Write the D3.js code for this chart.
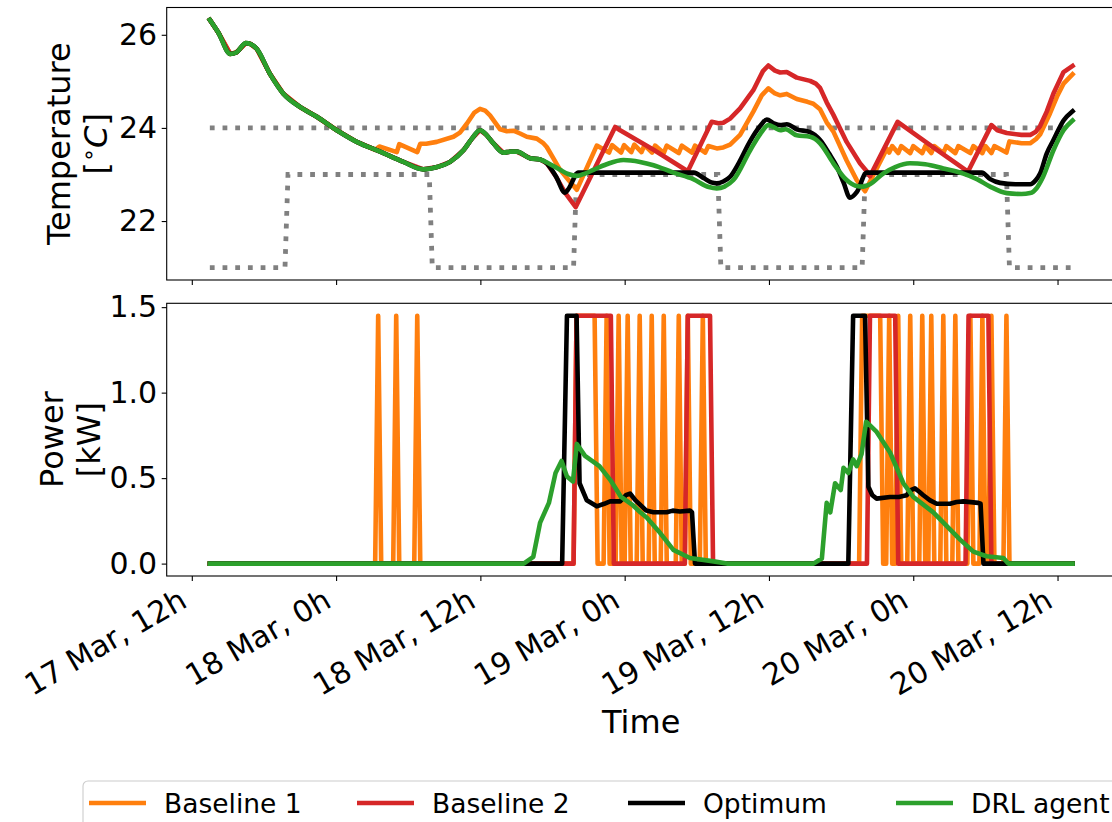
<!DOCTYPE html>
<html><head><meta charset="utf-8">
<script src="https://cdn.jsdelivr.net/npm/d3@7"></script>
<style>
body{margin:0;background:#fff;}
svg{display:block;font-family:"DejaVu Sans",sans-serif;}
</style>
</head><body>
<svg id="c" width="1112" height="822"></svg>
<script>
// ---------- DATA (time in hours since 17 Mar 00:00) ----------
const tickHours = [12, 24, 36, 48, 60, 72, 84];
const tempTicks = [22, 24, 26];
const powerTicks = [0.0, 0.5, 1.0, 1.5];
const seriesNames = ["Baseline 1", "Baseline 2", "Optimum", "DRL agent"];
const seriesColors = ["#ff7f0e", "#d62728", "#000000", "#2ca02c"];

// setpoints
const setpointUpper = [[13.5, 24], [85.25, 24]];
const setpointLower = [[13.5, 21], [19.75, 21], [20.0, 23], [31.75, 23], [32.0, 21], [43.75, 21], [44.0, 23],
  [55.75, 23], [56.0, 21], [67.75, 21], [68.0, 23], [79.75, 23], [80.0, 21], [85.25, 21]];

// shared temperature trajectory (all controllers identical at start)
const tempSharedA = [[13.5, 26.32], [14.2, 26.05], [15.2, 25.59], [15.7, 25.62], [16.5, 25.82], [16.9, 25.80],
  [17.4, 25.70], [18.5, 25.16], [19.6, 24.74], [21.0, 24.45], [22.4, 24.24], [24.06, 23.95], [25.72, 23.70]];
const tempSharedB = [[27.66, 23.49], [29.6, 23.27], [31.26, 23.11], [32.4, 23.16], [33.48, 23.27], [34.59, 23.52],
  [35.3, 23.77], [35.97, 23.95], [36.5, 23.85], [37.08, 23.67], [37.91, 23.47], [38.5, 23.49], [39.03, 23.49],
  [40.13, 23.35], [40.97, 23.32]];

const tempBaseline1Own = [[27.25, 23.53], [27.6, 23.60], [29.05, 23.48], [29.25, 23.65], [30.75, 23.48], [31.0, 23.66],
  [31.5, 23.66], [32.37, 23.70], [33.76, 23.81], [34.3, 23.90], [34.87, 24.09], [35.5, 24.33], [35.97, 24.41],
  [36.4, 24.37], [36.8, 24.27], [37.64, 23.97], [38.2, 23.93], [38.75, 23.94], [39.3, 23.88], [39.86, 23.81],
  [40.69, 23.77], [41.2, 23.68], [41.52, 23.59], [42.63, 23.10], [43.4, 22.86], [44.02, 22.67], [45.68, 23.62],
  [46.7, 23.47], [46.95, 23.63], [47.7, 23.47], [47.95, 23.63], [48.55, 23.48], [48.8, 23.64], [49.4, 23.48],
  [49.65, 23.63], [50.28, 23.47], [50.53, 23.62], [51.25, 23.46], [51.5, 23.62], [52.5, 23.46], [52.75, 23.62],
  [53.6, 23.47], [53.85, 23.62], [54.7, 23.47], [54.96, 23.61], [55.66, 23.56], [56.2, 23.58], [56.77, 23.64],
  [57.6, 23.85], [58.7, 24.35], [59.4, 24.70], [59.95, 24.85], [60.5, 24.74], [60.93, 24.70], [61.48, 24.73],
  [62.31, 24.62], [63.2, 24.56], [63.69, 24.52], [64.25, 24.40], [64.8, 24.12], [65.36, 23.92], [66.46, 23.30],
  [67.3, 22.88], [67.99, 22.64], [69.8, 23.55], [70.0, 23.47], [70.25, 23.61], [70.75, 23.46], [71.0, 23.61],
  [71.75, 23.46], [72.0, 23.61], [72.75, 23.46], [73.0, 23.61], [73.5, 23.46], [73.75, 23.61], [74.5, 23.46],
  [74.75, 23.61], [75.5, 23.46], [75.75, 23.61], [76.75, 23.46], [77.0, 23.61], [77.75, 23.46], [78.0, 23.61],
  [78.5, 23.46], [78.75, 23.61], [79.75, 23.47], [80.0, 23.71], [81.0, 23.67], [81.72, 23.67], [82.2, 23.76],
  [82.55, 23.86], [83.37, 24.31], [84.0, 24.70], [84.5, 24.95], [85.25, 25.15]];

const tempBaseline2Own = [[41.52, 23.24], [42.3, 22.95], [43.04, 22.61], [43.93, 22.30], [47.21, 24.02], [47.62, 23.95],
  [50.4, 23.53], [53.25, 23.07], [55.24, 24.13], [55.8, 24.10], [56.2, 24.11], [56.77, 24.20], [57.6, 24.42],
  [58.7, 24.81], [59.5, 25.22], [59.95, 25.34], [60.5, 25.23], [60.93, 25.19], [61.48, 25.20], [62.31, 25.08],
  [63.42, 25.01], [63.9, 24.95], [64.25, 24.86], [64.8, 24.55], [65.36, 24.28], [66.46, 23.70], [67.57, 23.24],
  [68.13, 23.07], [68.4, 22.96], [70.7, 24.13], [73.67, 23.58], [76.55, 23.06], [78.5, 24.06], [79.0, 23.95],
  [79.78, 23.89], [81.0, 23.85], [81.72, 23.85], [82.2, 23.92], [82.55, 24.04], [83.1, 24.35], [83.66, 24.74],
  [84.5, 25.20], [85.25, 25.33]];

const tempOptimumOwn = [[41.52, 23.24], [42.3, 22.95], [43.04, 22.61], [43.3, 22.68], [44.15, 23.04], [53.74, 23.04],
  [54.6, 22.92], [55.2, 22.83], [55.66, 22.81], [56.2, 22.85], [56.77, 22.95], [57.5, 23.25], [58.4, 23.70],
  [59.3, 24.05], [59.82, 24.18], [60.4, 24.10], [60.93, 24.06], [61.48, 24.08], [62.31, 23.97], [63.42, 23.91],
  [64.25, 23.74], [65.0, 23.45], [65.64, 23.17], [66.2, 22.83], [66.74, 22.50], [67.3, 22.62], [68.13, 23.04],
  [77.7, 23.04], [78.4, 22.90], [79.22, 22.82], [80.5, 22.79], [81.72, 22.79], [82.2, 22.88], [82.55, 23.02],
  [83.1, 23.45], [83.66, 23.74], [84.5, 24.16], [85.25, 24.36]];

const tempAgentOwn = [[41.8, 23.22], [42.63, 23.10], [43.3, 23.01], [44.02, 22.97], [44.7, 23.02], [45.4, 23.10],
  [46.5, 23.22], [47.9, 23.31], [49.28, 23.27], [50.4, 23.20], [52.05, 23.04], [53.7, 22.90], [55.0, 22.73],
  [55.66, 22.70], [56.3, 22.74], [57.04, 22.88], [58.44, 23.52], [59.3, 23.88], [59.95, 24.06], [60.5, 24.00],
  [60.93, 23.95], [61.4, 23.97], [62.31, 23.84], [63.42, 23.81], [64.25, 23.67], [65.36, 23.24], [66.46, 22.88],
  [67.2, 22.76], [67.85, 22.74], [68.4, 22.79], [69.5, 23.02], [70.5, 23.16], [71.73, 23.24], [73.0, 23.22],
  [74.5, 23.13], [76.17, 23.02], [77.3, 22.90], [78.39, 22.74], [79.78, 22.60], [81.0, 22.58], [81.72, 22.60],
  [82.3, 22.72], [82.8, 22.95], [83.66, 23.52], [84.5, 23.95], [85.25, 24.16]];

// power [kW]
const powerBaseline1 = [[13.5, 0], [27.25, 0], [27.5, 1.45], [27.75, 0], [28.75, 0], [29.0, 1.45], [29.25, 0],
  [30.5, 0], [30.75, 1.45], [31.0, 0], [43.75, 0], [44.0, 1.45], [45.5, 1.45], [45.75, 0],
  [46.25, 0], [46.5, 1.45], [46.75, 0], [47.25, 0], [47.5, 1.45], [47.75, 0], [48.0, 0], [48.25, 1.45], [48.5, 0],
  [49.0, 0], [49.25, 1.45], [49.5, 0], [50.0, 0], [50.25, 1.45], [50.5, 0], [51.0, 0], [51.25, 1.45], [51.5, 0],
  [52.25, 0], [52.5, 1.45], [52.75, 0], [53.0, 0], [53.25, 1.45], [53.5, 0], [54.25, 0], [54.5, 1.45], [54.75, 0],
  [67.5, 0], [67.75, 1.45], [69.25, 1.45], [69.5, 0], [69.75, 0], [70.0, 1.45], [70.25, 0], [70.5, 0], [70.75, 1.45],
  [71.0, 0], [71.5, 0], [71.75, 1.45], [72.0, 0], [72.5, 0], [72.75, 1.45], [73.0, 0], [73.25, 0], [73.5, 1.45],
  [73.75, 0], [74.25, 0], [74.5, 1.45], [74.75, 0], [75.25, 0], [75.5, 1.45], [75.75, 0], [76.5, 0], [76.75, 1.45],
  [77.0, 0], [77.5, 0], [77.75, 1.45], [78.0, 0], [78.25, 0], [78.5, 1.45], [78.75, 0], [79.5, 0], [79.75, 1.45],
  [80.0, 0], [85.25, 0]];

const powerBaseline2 = [[13.5, 0], [43.75, 0], [44.0, 1.45], [46.85, 1.45], [47.1, 0], [53.0, 0], [53.25, 1.45],
  [55.1, 1.45], [55.35, 0], [68.15, 0], [68.4, 1.45], [70.5, 1.45], [70.75, 0], [76.35, 0], [76.6, 1.45],
  [78.25, 1.45], [78.5, 0], [85.25, 0]];

const powerOptimum = [[13.5, 0], [42.8, 0], [43.2, 1.45], [44.0, 1.45], [44.25, 0.47], [44.85, 0.37], [45.68, 0.335],
  [46.3, 0.35], [46.79, 0.364], [47.62, 0.364], [48.1, 0.40], [48.45, 0.41], [48.9, 0.37], [49.28, 0.345],
  [49.8, 0.31], [50.39, 0.30], [51.5, 0.30], [52.0, 0.31], [52.6, 0.305], [53.43, 0.31], [53.6, 0.30], [53.85, 0],
  [66.6, 0], [67.0, 1.45], [67.99, 1.45], [68.27, 0.45], [68.6, 0.40], [68.96, 0.38], [70.07, 0.39], [70.8, 0.39],
  [71.45, 0.40], [71.8, 0.43], [72.14, 0.44], [72.5, 0.42], [72.84, 0.40], [73.4, 0.37], [73.95, 0.35],
  [75.06, 0.35], [75.6, 0.36], [76.17, 0.364], [77.4, 0.355], [77.6, 0.35], [77.84, 0], [85.25, 0]];

const powerAgent = [[13.5, 0], [39.6, 0], [40.4, 0.04], [40.97, 0.24], [41.7, 0.355], [42.25, 0.53], [42.75, 0.60],
  [43.2, 0.51], [43.7, 0.48], [44.02, 0.70], [44.7, 0.63], [45.9, 0.57], [46.8, 0.49], [47.7, 0.39], [48.7, 0.34],
  [49.3, 0.30], [49.83, 0.27], [50.94, 0.18], [52.05, 0.08], [53.43, 0.033], [55.4, 0.013], [56.5, 0],
  [63.7, 0], [64.4, 0.03], [64.8, 0.355], [65.1, 0.30], [65.5, 0.47], [65.97, 0.43], [66.2, 0.56], [66.6, 0.53],
  [67.0, 0.61], [67.3, 0.57], [67.7, 0.64], [68.08, 0.83], [68.96, 0.77], [70.07, 0.65], [71.18, 0.47],
  [72.0, 0.39], [73.67, 0.30], [75.06, 0.20], [75.9, 0.14], [77.0, 0.07], [78.1, 0.043], [79.5, 0.033],
  [79.9, 0], [85.25, 0]];

// ---------- BUILD ----------
const tempSeries = [
  tempSharedA.concat(tempBaseline1Own),
  tempSharedA.concat(tempSharedB, tempBaseline2Own),
  tempSharedA.concat(tempSharedB, tempOptimumOwn),
  tempSharedA.concat(tempSharedB, tempAgentOwn)
];
const tempCurves = [d3.curveLinear, d3.curveLinear, d3.curveMonotoneX, d3.curveMonotoneX];
const powerSeries = [powerBaseline1, powerBaseline2, powerOptimum, powerAgent];

const base = Date.UTC(2019, 2, 17);
const toDate = h => new Date(base + h * 3600000);

const svg = d3.select("#c");
const L = 166.7, R = 1115.7;
const top1 = 7.5, bot1 = 280, top2 = 303.3, bot2 = 576;

const allT = tempSeries.flat().map(d => d[0]);
const tMin = d3.min(allT), tMax = d3.max(allT), tPad = (tMax - tMin) * 0.05;
const x = d3.scaleUtc().domain([toDate(tMin - tPad), toDate(tMax + tPad)]).range([L, R]);

const allTemp = tempSeries.flat().map(d => d[1]).concat(setpointLower.map(d => d[1]));
const yMin = d3.min(allTemp), yMax = d3.max(allTemp), yPad = (yMax - yMin) * 0.05;
const y1 = d3.scaleLinear().domain([yMin - yPad, yMax + yPad]).range([bot1, top1]);
const allP = powerSeries.flat().map(d => d[1]);
const pMin = d3.min(allP), pMax = d3.max(allP), pPad = (pMax - pMin) * 0.05;
const y2 = d3.scaleLinear().domain([pMin - pPad, pMax + pPad]).range([bot2, top2]);

const FS = 32;      // axis titles
const TFS = 30;     // tick labels
function styleAxis(g) {
  g.select(".domain").remove();
  g.selectAll(".tick line").attr("stroke", "#000").attr("stroke-width", 1.1);
  g.selectAll(".tick text").attr("font-size", TFS).attr("fill", "#000").attr("font-family", "DejaVu Sans");
}

// clip paths
const defs = svg.append("defs");
defs.append("clipPath").attr("id", "cp1").append("rect").attr("x", L).attr("y", top1).attr("width", R - L).attr("height", bot1 - top1);
defs.append("clipPath").attr("id", "cp2").append("rect").attr("x", L).attr("y", top2).attr("width", R - L).attr("height", bot2 - top2);

// axes
const xTickDates = tickHours.map(toDate);
svg.append("g").attr("transform", `translate(0,${bot1})`)
  .call(d3.axisBottom(x).tickValues(xTickDates).tickSize(5).tickFormat(""))
  .call(styleAxis);
const gx2 = svg.append("g").attr("transform", `translate(0,${bot2})`)
  .call(d3.axisBottom(x).tickValues(xTickDates).tickSize(5).tickFormat(d3.utcFormat("%-d %b, %-Hh")))
  .call(styleAxis);
gx2.selectAll(".tick text")
  .attr("text-anchor", "end").attr("y", 0).attr("dy", 0)
  .attr("transform", "translate(-3.5,30) rotate(-30)");

svg.append("g").attr("transform", `translate(${L},0)`)
  .call(d3.axisLeft(y1).tickValues(tempTicks).tickSize(5).tickPadding(4.5).tickFormat(d3.format("d")))
  .call(styleAxis);
svg.append("g").attr("transform", `translate(${L},0)`)
  .call(d3.axisLeft(y2).tickValues(powerTicks).tickSize(5).tickPadding(4.5).tickFormat(d3.format(".1f")))
  .call(styleAxis);

// lines
const g1 = svg.append("g").attr("clip-path", "url(#cp1)");
const lineSet = d3.line().x(d => x(toDate(d[0]))).y(d => y1(d[1]));
[setpointUpper, setpointLower].forEach(s => {
  g1.append("path").attr("d", lineSet(s)).attr("fill", "none").attr("stroke", "#808080")
    .attr("stroke-width", 4.8).attr("stroke-dasharray", "4.8,7.9");
});
tempSeries.forEach((s, i) => {
  const ln = d3.line().x(d => x(toDate(d[0]))).y(d => y1(d[1])).curve(tempCurves[i]);
  g1.append("path").attr("d", ln(s)).attr("fill", "none").attr("stroke", seriesColors[i])
    .attr("stroke-width", 4.6).attr("stroke-linejoin", "round").attr("stroke-linecap", "square");
});
const line2 = d3.line().x(d => x(toDate(d[0]))).y(d => y2(d[1]));
const g2 = svg.append("g").attr("clip-path", "url(#cp2)");
powerSeries.forEach((s, i) => {
  g2.append("path").attr("d", line2(s)).attr("fill", "none").attr("stroke", seriesColors[i])
    .attr("stroke-width", 4.6).attr("stroke-linejoin", "round").attr("stroke-linecap", "square");
});

// frames
[[top1, bot1], [top2, bot2]].forEach(([t, b]) => {
  svg.append("rect").attr("x", L).attr("y", t).attr("width", R - L).attr("height", b - t)
    .attr("fill", "none").attr("stroke", "#000").attr("stroke-width", 1.1);
});

// y labels
function yLabel(lines, xs, cy) {
  lines.forEach((ln, i) => {
    const t = svg.append("text").attr("transform", `translate(${xs[i]},${cy}) rotate(-90)`)
      .attr("text-anchor", "middle").attr("dy", "0.36em").attr("font-size", FS).attr("fill", "#000");
    ln(t);
  });
}
yLabel([
  t => t.text("Temperature"),
  t => { t.append("tspan").text("[");
         t.append("tspan").attr("font-size", FS * 0.7).attr("dy", "-0.45em").text("∘");
         t.append("tspan").attr("font-style", "italic").attr("dy", "0.315em").text("C");
         t.append("tspan").text("]"); }
], [58, 95], (top1 + bot1) / 2);
yLabel([t => t.text("Power"), t => t.text("[kW]")], [51, 88], (top2 + bot2) / 2);

// x label
svg.append("text").attr("x", (L + R) / 2).attr("y", 733).attr("text-anchor", "middle")
  .attr("font-size", FS).attr("fill", "#000").text("Time");

// legend
const LFS = 26.5;
const lg = svg.append("g");
lg.append("rect").attr("x", 83).attr("y", 781).attr("width", 1080).attr("height", 64).attr("rx", 5)
  .attr("fill", "#fff").attr("fill-opacity", 0.8).attr("stroke", "#cccccc").attr("stroke-width", 1.1);
const legendCols = [89, 357, 628, 896];
const ly = 803;
seriesNames.forEach((n, i) => {
  const lx = legendCols[i];
  lg.append("line").attr("x1", lx).attr("x2", lx + 57).attr("y1", ly).attr("y2", ly)
    .attr("stroke", seriesColors[i]).attr("stroke-width", 4.6);
  lg.append("text").attr("x", lx + 57 + 18).attr("y", ly).attr("dy", "0.36em")
    .attr("font-size", LFS).attr("fill", "#000").text(n);
});
</script>
</body></html>
